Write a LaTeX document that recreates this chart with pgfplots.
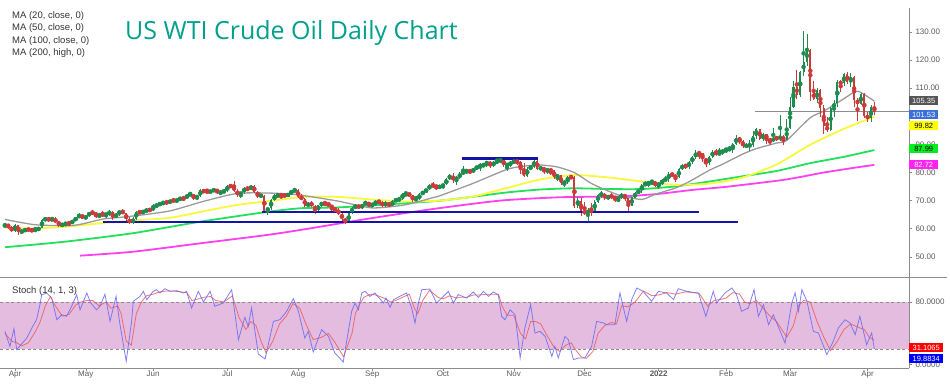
\documentclass[border=0pt]{standalone}
\usepackage{pgfplots}
\pgfplotsset{compat=1.18}
\usepackage{pgfplotstable}
\usepackage{fontspec}
\setmainfont{Liberation Sans}
\newfontfamily\titlefont{Open Sans}
\definecolor{cup}{HTML}{1E8C4E}
\definecolor{cdn}{HTML}{CC3B3B}
\definecolor{maA}{HTML}{9A9A9A}
\definecolor{maB}{HTML}{F8F83C}
\definecolor{maC}{HTML}{22E05A}
\definecolor{maD}{HTML}{FF40F0}
\definecolor{sup}{HTML}{1414A8}
\definecolor{axgray}{HTML}{8C8C8C}
\definecolor{txtgray}{HTML}{5A5A5A}
\definecolor{stfill}{HTML}{E4BCE0}
\definecolor{stk}{HTML}{6A6AF0}
\definecolor{std}{HTML}{F05A5A}
\definecolor{ttl}{HTML}{00A08C}
\definecolor{lblgray}{HTML}{555555}
\definecolor{lblblue}{HTML}{3A6FD8}
\definecolor{lblgreen}{HTML}{00EE22}
\definecolor{lblmag}{HTML}{FF22F0}
\definecolor{lblyel}{HTML}{FFFF00}

\pgfplotstableread{
i o h l c
-3 60.97 61.88 60.30 61.56
-2 61.60 61.80 60.03 60.55
-1 60.50 60.80 58.86 59.16
0 59.32 61.74 58.91 61.45
1 61.40 61.48 57.63 58.65
2 58.56 59.73 58.21 59.33
3 59.30 60.22 58.70 59.77
4 59.78 60.42 58.99 59.60
5 59.62 59.93 58.86 59.32
6 59.30 60.78 58.98 59.70
7 59.72 60.46 59.35 60.18
8 60.27 63.43 60.08 63.15
9 63.18 63.88 62.87 63.46
10 63.50 63.83 62.80 63.13
11 63.10 64.07 62.87 63.38
12 63.40 64.00 61.92 62.44
13 62.52 62.73 60.75 61.35
14 61.36 61.93 60.76 61.43
15 61.49 62.36 60.86 62.14
16 62.05 62.67 60.80 61.91
17 61.89 63.14 61.57 62.94
18 62.99 64.04 62.70 63.86
19 63.88 65.47 63.72 65.01
20 65.03 65.37 63.40 63.58
21 63.65 64.84 63.10 64.49
22 64.55 66.04 64.33 65.69
23 65.70 66.48 65.05 65.63
24 65.60 65.83 63.84 64.71
25 64.75 65.24 63.86 64.90
26 64.95 66.13 64.46 64.92
27 64.90 65.70 63.82 65.28
28 65.30 66.66 64.50 66.08
29 66.00 66.16 63.19 63.82
30 63.83 65.60 63.76 65.37
31 65.38 66.69 64.65 66.27
32 66.28 66.96 65.08 65.49
33 65.50 65.71 62.56 63.36
34 63.40 64.00 61.56 62.05
35 62.10 64.08 61.60 63.58
36 63.60 66.38 63.15 66.05
37 66.10 66.45 65.16 65.76
38 65.80 66.47 65.40 66.21
39 66.20 67.06 65.70 66.85
40 66.87 67.39 66.10 66.32
41 66.60 68.87 66.45 67.72
42 67.75 68.87 67.40 68.83
43 68.80 69.40 68.00 68.81
44 68.85 69.76 68.37 69.62
45 69.60 70.00 68.60 69.23
46 69.20 70.29 68.95 70.05
47 70.05 70.62 69.55 69.96
48 69.95 70.52 69.32 70.29
49 70.30 71.24 70.08 70.91
50 70.90 71.27 70.00 70.88
51 70.85 72.25 70.50 72.12
52 72.10 72.99 71.80 72.15
53 72.10 72.40 70.12 71.04
54 71.00 71.85 70.20 71.64
55 71.70 73.96 71.30 73.66
56 73.65 73.99 72.80 73.06
57 73.10 74.25 72.80 73.08
58 73.10 73.74 72.70 73.30
59 73.35 74.45 72.94 74.05
60 74.10 74.20 72.34 72.91
61 72.90 73.49 72.00 72.98
62 73.00 74.08 72.55 73.47
63 73.50 75.49 73.10 75.23
64 75.25 75.70 74.66 75.16
65 75.20 76.98 73.10 73.37
66 73.40 74.25 71.27 72.20
67 72.20 73.10 70.76 72.94
68 72.95 74.90 72.40 74.56
69 74.55 74.68 73.53 74.10
70 74.10 75.52 73.65 75.25
71 75.25 75.50 72.60 73.13
72 73.10 73.30 70.82 71.65
73 71.65 72.45 71.04 71.81
74 71.80 71.95 65.95 66.42
75 66.40 67.69 65.01 67.42
76 67.42 70.44 66.80 70.30
77 70.30 72.20 69.80 71.91
78 71.90 72.30 71.14 72.07
79 72.05 72.40 70.53 71.91
80 71.90 72.65 71.02 71.65
81 71.65 72.70 71.30 72.39
82 72.40 73.73 72.10 73.62
83 73.60 74.05 72.92 73.95
84 73.90 73.98 70.85 71.26
85 71.25 72.23 70.05 70.56
86 70.55 70.90 67.88 68.15
87 68.15 69.49 67.58 69.09
88 69.10 69.87 67.65 68.28
89 68.25 68.30 65.15 66.48
90 66.50 68.45 66.40 68.29
91 68.30 69.66 67.90 69.25
92 69.20 69.39 68.18 69.09
93 69.05 69.20 67.85 68.44
94 68.40 68.48 65.97 67.29
95 67.30 67.55 65.89 66.59
96 66.60 67.35 64.74 65.46
97 65.40 65.76 62.79 63.50
98 63.50 63.97 61.74 62.32
99 62.30 65.90 61.90 65.64
100 65.65 67.75 65.40 67.54
101 67.55 68.56 66.98 68.36
102 68.35 68.68 66.98 67.42
103 67.40 68.87 67.00 68.74
104 68.80 69.90 68.50 69.21
105 69.20 69.34 67.82 68.50
106 68.50 69.06 67.61 68.59
107 68.60 70.09 68.23 69.99
108 70.00 70.17 68.82 69.29
109 69.30 69.85 67.58 68.35
110 68.35 69.70 67.78 69.30
111 69.30 69.50 67.55 68.14
112 68.15 70.07 68.04 69.72
113 69.70 70.78 69.55 70.45
114 70.45 71.14 69.64 70.46
115 70.45 72.75 70.23 72.61
116 72.60 72.81 71.49 72.61
117 72.60 72.79 71.36 71.97
118 71.95 72.08 69.63 70.29
119 70.30 71.50 70.18 70.56
120 70.55 72.56 70.33 72.23
121 72.25 73.52 71.85 73.30
122 73.30 74.19 72.77 73.98
123 74.00 75.86 73.75 75.45
124 75.45 76.67 74.36 75.29
125 75.30 75.66 73.67 74.83
126 74.80 75.66 74.10 75.03
127 75.00 76.06 74.07 75.88
128 75.90 77.95 75.40 77.62
129 77.60 79.48 77.50 78.93
130 78.90 79.78 76.16 77.43
131 77.45 78.89 75.71 78.30
132 78.30 80.11 77.78 79.35
133 79.35 82.18 79.20 80.52
134 80.50 81.08 79.56 80.64
135 80.65 81.12 79.40 80.44
136 80.40 81.50 79.82 81.31
137 81.30 82.38 81.05 82.28
138 82.30 83.49 80.55 82.44
139 82.45 83.20 81.80 82.96
140 82.95 83.87 82.10 83.87
141 83.85 84.20 81.49 82.50
142 82.50 84.08 81.86 83.76
143 83.75 85.41 83.10 83.76
144 83.75 85.41 83.47 84.65
145 84.60 84.88 81.97 82.66
146 82.65 83.15 80.57 82.81
147 82.80 84.07 82.05 83.57
148 83.60 84.88 82.89 84.05
149 84.05 84.70 82.67 83.91
150 83.90 83.98 79.58 80.86
151 80.85 83.40 78.25 78.81
152 78.80 81.80 78.53 81.27
153 81.30 82.80 80.97 81.93
154 81.95 84.97 81.44 84.15
155 84.15 84.52 80.73 81.34
156 81.35 82.29 80.72 81.59
157 81.60 82.00 79.45 80.79
158 80.80 81.67 79.53 80.88
159 80.90 81.24 78.96 80.76
160 80.75 80.79 77.81 78.36
161 78.35 79.44 76.80 79.01
162 79.00 79.27 75.44 76.10
163 76.10 77.19 74.87 76.75
164 76.75 78.60 75.80 78.50
165 78.50 78.90 77.60 78.39
166 78.40 78.67 67.40 68.15
167 68.15 71.42 67.35 69.95
168 69.95 70.85 64.43 66.18
169 66.20 69.55 64.93 65.57
170 65.55 67.43 62.43 66.50
171 66.50 69.09 64.60 66.26
172 66.25 70.11 66.10 69.49
173 69.50 72.23 69.22 72.05
174 72.05 73.34 71.05 72.36
175 72.35 72.85 70.09 70.94
176 70.95 72.13 70.10 71.67
177 71.65 72.53 70.69 71.29
178 71.30 71.75 69.61 70.73
179 70.75 71.17 69.36 70.87
180 70.90 72.88 70.64 72.38
181 72.40 72.50 69.89 70.86
182 70.85 70.95 66.12 68.23
183 68.25 71.27 68.06 71.12
184 71.10 72.90 70.90 72.76
185 72.75 73.95 72.19 73.79
186 73.80 75.91 72.78 75.57
187 75.55 76.89 75.13 75.98
188 76.00 76.85 74.88 76.56
189 76.55 77.12 75.68 76.99
190 77.00 77.00 74.72 75.21
191 75.50 76.54 74.27 76.08
192 76.05 77.64 75.72 76.99
193 77.00 78.60 76.60 77.85
194 77.85 80.24 76.74 79.46
195 79.45 80.30 78.35 78.90
196 78.90 79.40 76.60 78.23
197 78.25 81.49 77.97 81.22
198 81.20 83.00 80.86 82.64
199 82.65 83.06 81.38 82.12
200 82.10 84.13 81.34 83.82
201 83.85 85.74 83.20 85.43
202 85.45 87.91 84.85 86.96
203 86.95 87.55 84.94 86.90
204 86.90 86.97 83.82 85.14
205 85.15 85.24 81.94 83.31
206 83.30 86.03 82.73 85.60
207 85.60 88.13 85.10 87.35
208 87.35 88.54 85.73 86.61
209 86.60 88.84 86.12 86.82
210 86.80 88.44 86.40 88.15
211 88.15 88.73 86.91 88.20
212 88.20 89.45 87.65 88.26
213 88.25 90.42 87.06 90.27
214 90.30 93.17 89.71 92.31
215 92.35 92.73 90.02 91.32
216 91.30 91.47 88.69 89.36
217 89.35 90.40 88.56 89.66
218 89.65 91.40 87.75 89.88
219 89.90 94.66 89.05 93.10
220 93.10 95.82 91.97 95.46
221 95.45 95.57 91.61 92.07
222 92.05 94.00 91.30 93.66
223 93.65 93.72 90.10 91.76
224 91.75 92.37 89.68 91.07
225 91.10 96.00 90.72 92.35
226 92.35 93.15 91.21 92.10
227 92.10 100.54 91.20 92.81
228 92.80 93.34 89.78 91.59
229 91.60 99.10 91.50 95.72
230 95.70 106.78 95.40 103.41
231 103.40 112.51 102.80 110.60
232 110.60 116.57 106.10 107.67
233 107.70 116.00 106.77 115.68
234 115.70 130.50 114.30 119.40
235 119.40 129.44 117.80 123.70
236 123.70 124.00 105.33 108.70
237 108.70 112.45 105.68 106.02
238 106.00 110.18 104.59 109.33
239 109.30 109.72 99.76 103.01
240 103.00 103.90 93.53 96.44
241 96.45 99.74 94.50 95.04
242 95.05 103.38 94.82 102.98
243 103.00 105.79 99.71 104.70
244 104.70 112.95 103.30 112.12
245 112.10 112.91 108.51 111.76
246 111.80 115.40 110.73 114.93
247 114.90 115.88 111.50 112.34
248 112.35 115.24 110.29 113.90
249 113.90 114.40 103.46 105.96
250 105.95 106.47 98.44 104.24
251 104.25 108.40 103.91 107.82
252 107.80 108.26 99.49 100.28
253 100.30 101.48 97.99 99.27
254 99.25 103.95 97.90 103.28
255 103.30 105.20 100.49 101.53
}\ohlc

\pgfplotsset{
  candle/.style 2 args={only marks, mark=none, forget plot, color=#1,
    error bars/.cd, y dir=both, y explicit, error mark=none,
    error bar style={draw=#1, solid, line width=#2}},
}

\begin{document}
\begin{tikzpicture}

% ---------------- stochastic pane ----------------
\begin{axis}[
  at={(0pt,15pt)}, anchor=south west, scale only axis,
  width=909pt, height=91pt,
  xmin=-4.451, xmax=265.282, ymin=-4.26, ymax=111.92,
  axis x line*=bottom, axis y line*=right,
  axis line style={draw=axgray, line width=0.6pt},
  ytick={0,80}, yticklabels={0.0000,80.0000},
  xtick={0,21,41,63,84,106,127,148,169,191,211,230,253},
  xticklabels={Apr,May,Jun,Jul,Aug,Sep,Oct,Nov,Dec,\textbf{2022},Feb,Mar,Apr},
  tick align=outside, major tick length=3pt,
  tick style={draw=axgray, line width=0.5pt},
  xticklabel style={font=\fontsize{8}{9}\selectfont, text=txtgray, inner sep=1pt, yshift=1pt},
  yticklabel style={font=\fontsize{8}{9}\selectfont, text=txtgray},
]
\fill[stfill] (-4.451,20) rectangle (265.282,80);
\draw[axgray, line width=0.6pt, dash pattern=on 3pt off 2.5pt] (-4.451,20) -- (265.282,20);
\draw[axgray, line width=0.6pt, dash pattern=on 3pt off 2.5pt] (-4.451,80) -- (265.282,80);
\addplot[std, line width=0.8pt, opacity=0.85] coordinates {
(-3,40)(-1,30)(0.5,28)(2,24)(4,28)(6,42)(7.5,55)(9,75)(10.5,87)(12,75)(14,62)(16,64)(18,76)(19.5,80)(21.5,82)(23,82)(25,75)(27,80)(28.5,72)(30.5,75)(31.5,65)(33,30)(34.5,25)(36,65)(37.5,80)(39,88)(41,90)(43,93)(45,94)(47,94)(49,93)(51,92)(52.5,82)(54.5,84)(56,86)(58,87)(59.5,82)(62,80)(64.5,88)(66.5,60)(68.5,45)(70,55)(71.5,50)(73,30)(74.5,15)(76.5,30)(78.5,52)(80.5,62)(82.5,78)(84.5,72)(86.5,50)(88.5,32)(91,35)(93,40)(95,28)(97.5,10)(100,40)(101,65)(102,75)(103.5,86)(105.5,90)(107,89)(109.5,85)(111.5,80)(113,82)(115,86)(117,90)(118.5,72)(119.5,65)(121,82)(123,95)(125.5,86)(127,84)(129,88)(131,85)(132,86)(134,86)(136,89)(138,89)(140,90)(142,90)(143.5,90)(144.5,75)(146,63)(148,63)(150,40)(151.5,33)(153,55)(154.5,55)(156,52)(157.5,40)(160,22)(161.5,17)(163.5,25)(165,28)(166.5,18)(168,10)(169.5,8)(171.5,17)(173,40)(175,50)(177,54)(178.5,52)(180,75)(182,74)(184,80)(186.5,94)(189,88)(191,89)(193.5,92)(196,90)(199,93)(203,91)(205.5,75)(207.5,82)(209,83)(211,85)(213,92)(215,90)(216.5,80)(218,78)(220,82)(222,72)(224,62)(226,55)(229,35)(231,50)(232.5,75)(234,82)(236,80)(238,55)(240,35)(242,18)(244,30)(246,45)(248,52)(250,48)(252,45)(253.5,35)(255,31.1)};
\addplot[stk, line width=0.8pt, opacity=0.85] coordinates {
(-3,42.6)(-1.5,23.4)(-0.3,46)(0.5,19.2)(3.5,34)(5,46.8)(6.4,57.4)(7.4,76.6)(7.9,89)(9.4,91.5)(10.9,85)(12.4,57.4)(13.9,63.8)(15.3,61.7)(16.8,74.5)(18.3,89.4)(19.3,70)(21.3,91.5)(22.5,78.7)(24.2,70)(25.2,74.5)(26.7,90)(28.2,55.3)(30,87.2)(31,55.3)(33,4.3)(34.6,55.3)(35.1,80.9)(37.1,87.2)(38.1,93.6)(39.1,83)(41,93.6)(42,95.7)(43,91.5)(44.5,97)(46,93.6)(48,94.5)(49.9,91.5)(50.9,93.6)(52.4,72.3)(54.4,93.6)(55.9,80)(57.9,93.6)(59.3,74.5)(61.8,78.7)(64.3,95.7)(66.3,31.9)(68.2,60.4)(69.2,48.9)(70.2,72.3)(72.2,13.6)(74.2,7.2)(76.7,55.3)(78.6,57.4)(80.6,68.1)(82.6,84.3)(84.1,68.1)(86,34)(87,42.6)(88.5,16.2)(91,44.7)(93,36.2)(94.9,14.9)(97.4,3.4)(99.9,68.1)(100.9,78.7)(101.9,70)(102.9,91.5)(103.9,93.6)(105.3,87.2)(106.8,91.5)(109.3,78.7)(110.1,85)(111.3,73.2)(112.3,83)(114.2,87.2)(116.2,91.5)(117.7,72.3)(118.7,53.2)(119.7,78.7)(120.7,95.7)(123.1,96.6)(125.1,78.7)(127.1,87.2)(128.6,93.6)(130.1,78.7)(131.5,89.4)(134,85)(136,92.8)(137.5,85.8)(139,93.6)(140.5,87.2)(141.9,92.8)(143.4,89.4)(144.4,61.7)(145.4,57.4)(146.9,70)(148.4,63.8)(149.9,8.5)(151.3,46.8)(153,76.6)(154.3,40.4)(155.8,42.6)(157.3,36.2)(159.3,10.6)(160.2,23.4)(161.2,8.5)(163.2,36.2)(164.2,31.9)(165.7,6.4)(167.2,8.5)(169.1,8.5)(171.1,23.4)(172.6,55.3)(174.6,53.2)(175.6,51)(178,51)(179.5,91.5)(181.5,55.3)(183,83)(184.5,97.9)(186.4,93.6)(188.9,80.9)(190.9,93.6)(193.4,91.5)(195.4,83)(196.8,97)(199.3,93.6)(202.8,91.5)(205,61.7)(207.2,93.6)(208.2,78.7)(210.7,91.5)(212.7,97.9)(214.1,89.4)(215.6,68.1)(217.6,72.3)(219.3,95.7)(220.6,61.7)(222.1,76.6)(223.6,51)(225,63.8)(228.5,27.6)(230.5,78.7)(231.5,91.5)(232.5,68.1)(233.5,95.7)(235,80.9)(236.9,42.6)(238.4,40.4)(240.9,12.8)(242.8,29.8)(244.3,46.8)(246.3,57.4)(247.8,53.2)(249.3,38.3)(250.7,61.7)(252.7,25.5)(254.2,40.4)(255,19.9)};
\end{axis}

% ---------------- price pane ----------------
\begin{axis}[
  at={(0pt,106pt)}, anchor=south west, scale only axis,
  width=909pt, height=269pt,
  xmin=-4.451, xmax=265.282, ymin=42.811, ymax=138.541,
  axis x line*=bottom, axis y line*=right,
  x axis line style={draw=none},
  y axis line style={draw=axgray, line width=0.6pt},
  ytick={50,60,70,80,90,100,110,120,130},
  yticklabels={50.00,60.00,70.00,80.00,90.00,,110.00,120.00,130.00},
  xtick=\empty,
  tick align=outside, major tick length=3pt,
  tick style={draw=axgray, line width=0.5pt},
  yticklabel style={font=\fontsize{8}{9}\selectfont, text=txtgray},
]
% moving averages
\addplot[maD, line width=1.8pt, smooth, tension=0.4] coordinates {
(19.3,50.4)(35,51.8)(55,54.8)(75,57.8)(87,60.0)(104.5,63.5)(124,67.0)(144,70.0)(162,71.2)(180,71.5)(191,72.4)(201,73.8)(211,74.9)(227,77.2)(233,78.4)(240,80.0)(248,81.5)(255,82.72)};
\addplot[maC, line width=1.8pt, smooth, tension=0.4] coordinates {
(-3,53.4)(15,55.4)(35,58.4)(55,62.5)(75,66.0)(85,67.3)(96,67.59)(106,68.30)(116,69.08)(126,69.95)(136,71.38)(146,72.91)(156,73.96)(166,74.38)(176,74.12)(186,74.12)(196,75.06)(206,76.79)(216,78.67)(226,80.55)(236,83.34)(246,85.59)(255,87.99)};
\addplot[maB, line width=1.8pt, smooth, tension=0.4] coordinates {
(-3,60.4)(5,60.1)(15,60.7)(25,61.9)(35,62.9)(46,63.88)(56,66.22)(66,68.48)(76,69.92)(86,71.32)(96,71.30)(106,70.38)(116,69.68)(126,69.99)(136,71.45)(146,74.52)(156,77.55)(166,79.08)(176,78.25)(186,76.79)(196,75.60)(206,76.03)(216,78.25)(226,82.86)(236,89.89)(246,95.57)(255,99.82)};
\addplot[maA, line width=1.3pt, smooth, tension=0.4] coordinates {
(-3,63.3)(6,61.4)(16,61.08)(20,61.7)(26,63.42)(30,63.9)(36,64.65)(46,66.34)(56,69.76)(66,72.57)(76,72.67)(84,72.1)(86,71.75)(96,69.79)(106,67.40)(116,68.54)(124,71.05)(126,71.69)(136,76.17)(146,81.11)(151,82.26)(156,82.66)(161,81.95)(166,79.96)(171,76.12)(176,73.43)(180,71.66)(186,70.43)(190,72.26)(196,74.49)(200,76.72)(206,80.77)(210,82.98)(216,86.59)(220,88.50)(226,90.49)(229,91.46)(236,99.52)(240,101.85)(246,106.28)(250,108.93)(255,105.35)};
% current price line
\addplot[axgray, line width=0.5pt] coordinates {(219.6,101.8)(265.282,101.8)};
% candles: wicks and bodies
\addplot[candle={cup}{0.7pt}]
  table[x=i, y expr={\thisrow{c}>=\thisrow{o} ? 0.5*(\thisrow{h}+\thisrow{l}) : nan},
        y error expr={0.5*(\thisrow{h}-\thisrow{l})}] {\ohlc};
\addplot[candle={cdn}{0.7pt}]
  table[x=i, y expr={\thisrow{c}<\thisrow{o} ? 0.5*(\thisrow{h}+\thisrow{l}) : nan},
        y error expr={0.5*(\thisrow{h}-\thisrow{l})}] {\ohlc};
\addplot[candle={cup}{2.1pt}]
  table[x=i, y expr={\thisrow{c}>=\thisrow{o} ? 0.5*(\thisrow{o}+\thisrow{c}) : nan},
        y error expr={0.5*abs(\thisrow{c}-\thisrow{o})}] {\ohlc};
\addplot[candle={cdn}{2.1pt}]
  table[x=i, y expr={\thisrow{c}<\thisrow{o} ? 0.5*(\thisrow{o}+\thisrow{c}) : nan},
        y error expr={0.5*abs(\thisrow{c}-\thisrow{o})}] {\ohlc};
% support / resistance lines
\addplot[sup, line width=2.2pt] coordinates {(132.6,85.0)(155.2,85.0)};
\addplot[sup, line width=2.2pt] coordinates {(73.3,65.9)(203.0,65.9)};
\addplot[sup, line width=2.2pt] coordinates {(26.1,62.3)(214.5,62.3)};
\end{axis}

\begin{scope}[x=1pt,y=1pt]
% separator between panes
\draw[axgray, line width=0.7pt] (0,106) -- (947,106);
% value boxes on the right scale
\tikzset{vbox/.style={anchor=west, inner sep=0.5pt, minimum height=9pt, minimum width=29pt,
  font=\fontsize{7.5}{8}\selectfont}}
\node[vbox, fill=lblgray, text=white] at (909,282) {105.35};
\node[vbox, fill=lblblue, text=white] at (909,268.5) {101.53};
\node[vbox, fill=lblyel, text=black] at (909,257.5) {99.82};
\node[vbox, fill=lblgreen, text=black] at (909,234) {87.99};
\node[vbox, fill=lblmag, text=white] at (909,218) {82.72};
\node[vbox, minimum width=34pt, fill=red, text=white] at (909,35.5) {31.1065};
\node[vbox, minimum width=34pt, fill=blue, text=white] at (909,24.5) {19.8834};
% title and legends
\node[anchor=base west, font=\titlefont\fontsize{25}{30}\selectfont, text=ttl, inner sep=0pt] at (125,343.7) {US WTI Crude Oil Daily Chart};
\begin{scope}[every node/.style={anchor=base west, inner sep=0pt, font=\fontsize{9.5}{11}\selectfont, text=black!80}]
\node at (12,364.5) {MA (20, close, 0)};
\node at (12,352) {MA (50, close, 0)};
\node at (12,339.5) {MA (100, close, 0)};
\node at (12,327) {MA (200, high, 0)};
\node at (12,89.5) {Stoch (14, 1, 3)};
\end{scope}
\pgfresetboundingbox
\path[use as bounding box] (0,0) rectangle (950,383);
\end{scope}
\end{tikzpicture}
\end{document}
